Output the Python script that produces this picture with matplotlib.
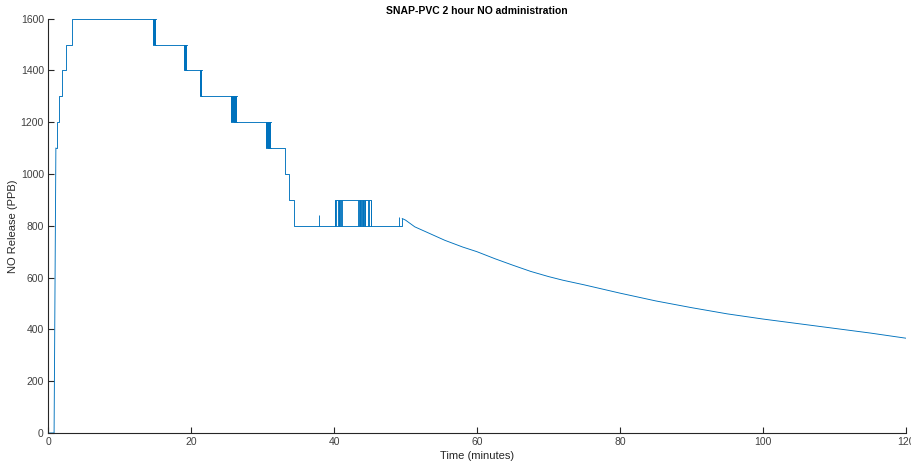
import numpy as np
import matplotlib.pyplot as plt

plt.rcParams['font.family'] = ['Liberation Sans', 'DejaVu Sans']

# staircase part (level holds from each time until the next one)
step_t = [0.0, 0.85, 1.1, 1.2, 1.5, 1.9, 2.55, 3.4, 14.95, 19.2, 21.4, 26.0, 30.8, 33.19, 33.66, 34.45, 40.14, 45.2, 49.55]
step_v = [0, 1100, 1100, 1200, 1300, 1400, 1500, 1600, 1500, 1400, 1300, 1200, 1100, 1000, 900, 800, 900, 800, 828]

# dense chatter between two levels (start, end, low, high)
band_start = [14.73, 18.98, 21.26, 25.55, 30.45]
band_end = [15.15, 19.44, 21.54, 26.43, 31.19]
band_low = [1500, 1400, 1300, 1200, 1100]
band_high = [1600, 1500, 1400, 1300, 1200]

# single toggles between 800 and 900
toggle_t = [40.14, 40.3, 40.55, 40.65, 40.75, 40.85, 40.95, 41.07,
            43.41, 43.5, 43.6, 43.7, 43.8, 43.9, 44.0, 44.1, 44.2, 44.3, 44.4, 44.7, 44.95, 45.2]

# short spikes at 800 level
spike_t = [37.94, 49.1]
spike_v = [843, 833]

# decay after 50 minutes
decay_t = [49.55, 50, 51.3, 53, 55.5, 58, 60, 62.5, 65, 67.5, 70, 72, 75, 80, 85, 90, 95, 100, 105, 110, 115, 120]
decay_v = [828, 822, 796, 775, 744, 718, 700, 673, 648, 624, 604, 590, 572, 540, 510, 484, 460, 440, 422, 404, 386, 366]

blue = '#0072BD'
dark = '#262626'
lw = 0.65

fig = plt.figure(figsize=(9.11, 4.65), dpi=100)
ax = fig.add_axes([0.0527, 0.0688, 0.9418, 0.8912])

# ramp 0.85 -> 1.1 drawn as straight segment, rest as steps
ax.plot(step_t[:2] + [step_t[2]], [0, 0, 1100], color=blue, lw=lw)
ax.plot(step_t[2:], step_v[2:], drawstyle='steps-post', color=blue, lw=lw)

for s, e, lo, hi in zip(band_start, band_end, band_low, band_high):
    ax.fill_between([s, e], lo, hi, color=blue, lw=0)
    ax.plot([s, e], [lo, lo], color=blue, lw=lw)
    ax.plot([s, e], [hi, hi], color=blue, lw=lw)

ax.vlines(toggle_t, 800, 900, color=blue, lw=lw)
ax.plot([40.14, 45.2], [800, 800], color=blue, lw=lw)
ax.vlines(spike_t, 800, spike_v, color=blue, lw=lw)
ax.plot(decay_t, decay_v, color=blue, lw=lw)

ax.set_xlim(0, 120)
ax.set_ylim(0, 1600)
ax.set_xticks(np.arange(0, 121, 20))
ax.set_yticks(np.arange(0, 1601, 200))
ax.tick_params(direction='in', length=4, width=0.8, colors=dark, labelsize=7.5, pad=3)
for lbl in ax.get_xticklabels() + ax.get_yticklabels():
    lbl.set_color('#404040')
for side in ['top', 'right']:
    ax.spines[side].set_visible(False)
for side in ['left', 'bottom']:
    ax.spines[side].set_color(dark)
    ax.spines[side].set_linewidth(0.8)

ax.set_xlabel('Time (minutes)', fontsize=8, color=dark, labelpad=3)
ax.set_ylabel('NO Release (PPB)', fontsize=8, color=dark, labelpad=2)
ax.set_title('SNAP-PVC 2 hour NO administration', fontsize=7.5, fontweight='bold', color='black', pad=3)

fig.savefig('out.png', dpi=100)
